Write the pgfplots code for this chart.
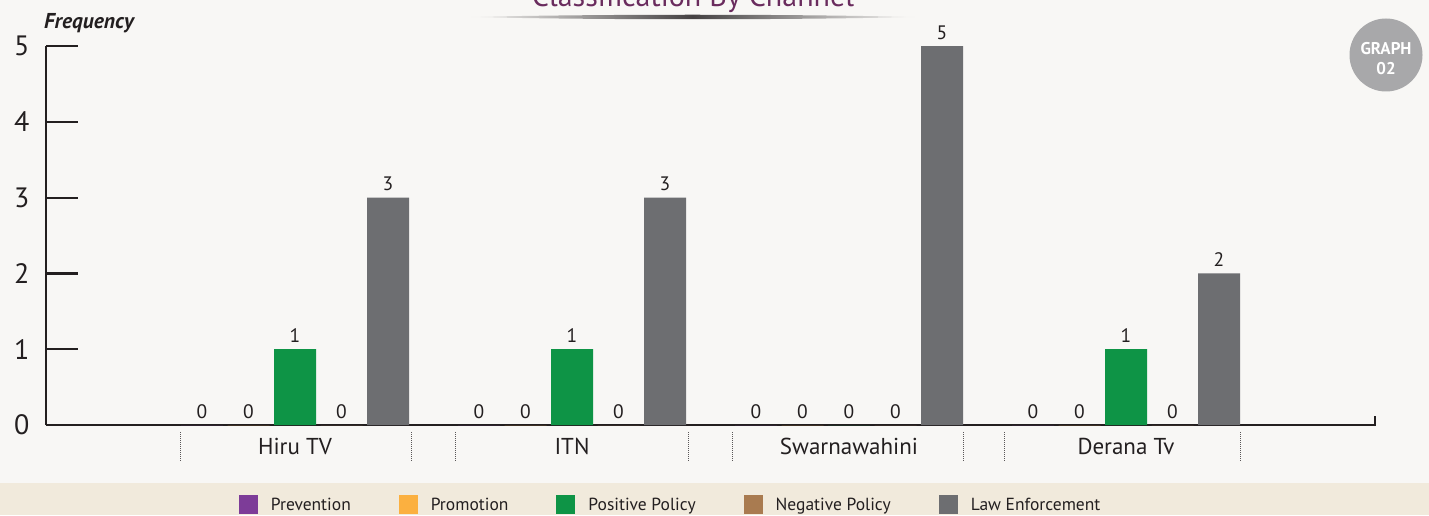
\documentclass[border=0pt]{standalone}
\usepackage{fontspec}
\setmainfont{PT Sans}
\usepackage{pgfplots}
\pgfplotsset{compat=1.18}
\definecolor{bg}{HTML}{F8F7F5}
\definecolor{band}{HTML}{F1EADC}
\definecolor{cPrev}{HTML}{7D3C98}
\definecolor{cProm}{HTML}{FBB040}
\definecolor{cPos}{HTML}{0E9446}
\definecolor{cNeg}{HTML}{A97B50}
\definecolor{cLaw}{HTML}{6D6E71}
\definecolor{ink}{HTML}{231F20}
\definecolor{titlec}{HTML}{6A2C5E}
\definecolor{badge}{HTML}{A8A8AA}
\begin{document}
\begin{tikzpicture}
\useasboundingbox (0pt,0pt) rectangle (1429pt,515pt);
\clip (0pt,0pt) rectangle (1429pt,515pt);
\fill[bg] (0pt,0pt) rectangle (1429pt,515pt);
\fill[band] (0pt,0pt) rectangle (1429pt,32pt);
\node[anchor=base, text=titlec, font=\fontsize{30}{32}\selectfont, inner sep=0pt] at (693pt,508pt) {Classification By Channel};
\shade[left color=bg, right color=bg, middle color=ink!85] (470pt,498pt) .. controls (600pt,501pt) and (785pt,501pt) .. (915pt,498pt) .. controls (785pt,495pt) and (600pt,495pt) .. (470pt,498pt) -- cycle;
\fill[badge] (1386pt,460pt) circle (36.5pt);
\node[text=white, font=\fontsize{17}{18}\selectfont\bfseries] at (1386pt,466pt) {GRAPH};
\node[text=white, font=\fontsize{17}{18}\selectfont\bfseries] at (1386pt,446pt) {02};
\node[anchor=west, text=ink, font=\fontsize{21.5}{23}\selectfont\bfseries\itshape, inner sep=0pt] at (44pt,492pt) {Frequency};
\begin{axis}[
  at={(46pt,90pt)}, anchor=south west, scale only axis,
  width=1329pt, height=379pt,
  clip=false,
  /pgf/number format/assume math mode=true,
  ybar=4.5pt, bar width=42pt,
  xmin=0.101, xmax=4.899, ymin=0, ymax=5,
  axis x line*=bottom, axis y line*=left,
  axis line style={ink, line width=2.2pt, -},
  tick align=inside,
  ytick={0,1,2,3,4,5},
  xtick={1,2,3,4},
  xticklabels={Hiru TV, ITN, Swarnawahini, Derana Tv},
  x tick style={draw=none},
  y tick style={ink, line width=2.2pt},
  major tick length=32pt,
  yticklabel style={font=\fontsize{28}{30}\selectfont, text=ink, xshift=-13pt},
  xticklabel style={font=\fontsize{23}{25}\selectfont, text=ink, yshift=-10pt},
  nodes near coords,
  every node near coord/.append style={font=\fontsize{19.5}{21}\selectfont, text=ink, yshift=3pt},
  legend columns=5,
  legend image code/.code={\draw[#1, draw=none] (0pt,-9.5pt) rectangle (19pt,9.5pt);},
  legend style={at={(0.470,-0.211)}, anchor=center, draw=none, fill=none,
    font=\fontsize{17.5}{18}\selectfont, text=ink,
    /tikz/every odd column/.append style={column sep=11pt},
    /tikz/every even column/.append style={column sep=46pt}},
]
\addplot[fill=cPrev, draw=none] coordinates {(1,0) (2,0) (3,0) (4,0)};
\addplot[fill=cProm, draw=none] coordinates {(1,0) (2,0) (3,0) (4,0)};
\addplot[fill=cPos, draw=none] coordinates {(1,1) (2,1) (3,0) (4,1)};
\addplot[fill=cNeg, draw=none] coordinates {(1,0) (2,0) (3,0) (4,0)};
\addplot[fill=cLaw, draw=none] coordinates {(1,3) (2,3) (3,5) (4,2)};
\legend{Prevention, Promotion, Positive Policy, Negative Policy, Law Enforcement}
\foreach \xx in {0.588,1.422,1.581,2.419,2.58,3.415,3.563,4.415}{
  \edef\tmp{\noexpand\draw[ink!75, densely dotted, line width=1pt] ([yshift=-7pt]axis cs:\xx,0) -- ([yshift=-37pt]axis cs:\xx,0);}\tmp
}
\draw[ink, line width=2.2pt] ([yshift=-1pt]axis cs:4.899,0) -- ([yshift=9pt]axis cs:4.899,0);
\end{axis}
\end{tikzpicture}
\end{document}
